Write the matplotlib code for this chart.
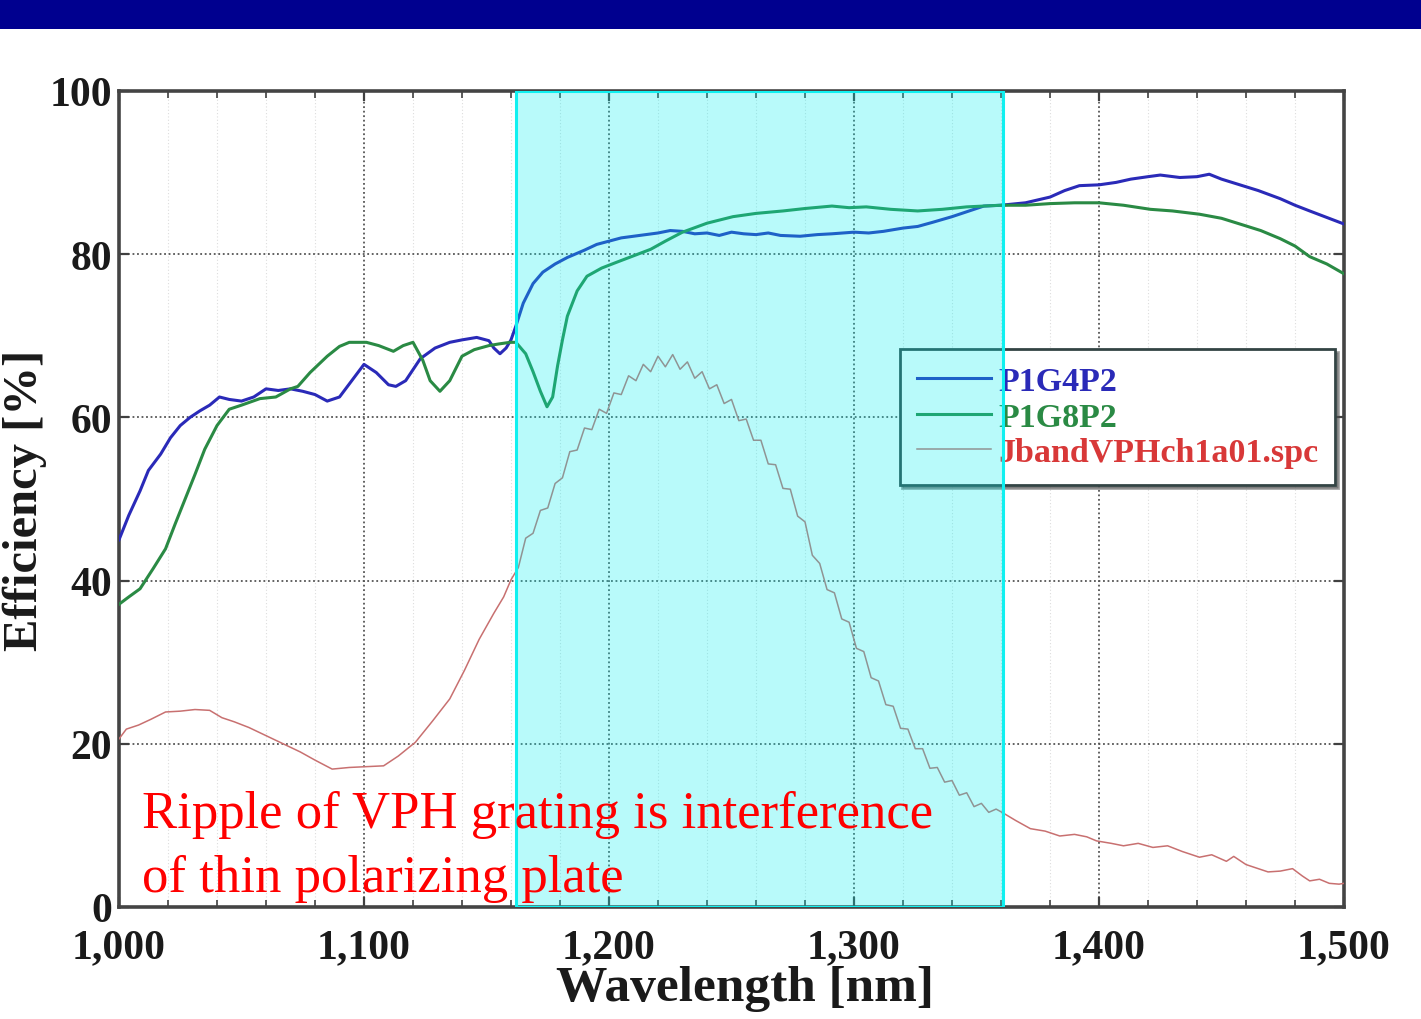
import matplotlib
matplotlib.use("Agg")
import matplotlib.pyplot as plt
from matplotlib.patches import Rectangle
from matplotlib.ticker import MultipleLocator, FuncFormatter

# ---------------- data ----------------
blue_x = [1000, 1004, 1008.6, 1012, 1017, 1021, 1025, 1029, 1033, 1037, 1041, 1045, 1050, 1055,
          1060, 1065, 1070, 1075, 1080, 1085, 1090, 1095, 1100, 1105, 1110, 1113, 1117, 1123,
          1129, 1135, 1140, 1146, 1151, 1153, 1155.5, 1158, 1160, 1162, 1165, 1169, 1173, 1178,
          1183, 1190, 1195, 1200, 1205, 1210, 1215, 1220, 1225, 1230, 1235, 1240, 1245, 1250,
          1255, 1260, 1265, 1270, 1278, 1285, 1291, 1300, 1306, 1312, 1320, 1326, 1332, 1340,
          1346, 1353, 1360, 1370, 1380, 1386, 1392, 1400, 1407, 1413, 1420, 1425, 1433, 1440,
          1445, 1450, 1457.5, 1465, 1474, 1480, 1486, 1493, 1500]
blue_y = [45.0, 48.0, 51.0, 53.5, 55.5, 57.5, 59.0, 60.0, 60.8, 61.5, 62.5, 62.2, 62.0, 62.5,
          63.5, 63.3, 63.5, 63.2, 62.8, 62.0, 62.5, 64.5, 66.5, 65.5, 64.0, 63.8, 64.5, 67.2,
          68.5, 69.2, 69.5, 69.8, 69.4, 68.5, 67.8, 68.5, 69.5, 71.2, 74.0, 76.4, 77.8, 78.8,
          79.6, 80.5, 81.2, 81.6, 82.0, 82.2, 82.4, 82.6, 82.9, 82.8, 82.5, 82.6, 82.3, 82.7,
          82.5, 82.4, 82.6, 82.3, 82.2, 82.4, 82.5, 82.7, 82.6, 82.8, 83.2, 83.4, 83.9, 84.6,
          85.2, 85.9, 86.0, 86.3, 87.0, 87.8, 88.4, 88.5, 88.8, 89.2, 89.5, 89.7, 89.4, 89.5,
          89.8, 89.2, 88.5, 87.8, 86.8, 86.0, 85.3, 84.5, 83.7]

green_x = [1000, 1004, 1008.6, 1014, 1019, 1023, 1027, 1031, 1035, 1040, 1045, 1050, 1057.5,
           1064, 1070, 1073, 1078, 1085, 1090, 1094, 1101, 1106, 1112, 1116, 1120, 1124, 1127,
           1131, 1135, 1140, 1145, 1151, 1155, 1159.6, 1162, 1166, 1169, 1172, 1174.7, 1177,
           1179, 1181, 1183, 1187, 1191, 1197, 1203, 1210, 1217, 1223, 1230, 1240, 1250.6, 1260,
           1271, 1280, 1291, 1298, 1305, 1315, 1326, 1336, 1346, 1360, 1370, 1380, 1390, 1400,
           1410, 1421, 1430, 1441, 1450, 1457.5, 1466, 1474, 1480, 1486, 1493, 1500]
green_y = [37.1, 38.0, 39.0, 41.5, 43.9, 47.0, 50.0, 53.0, 56.1, 59.0, 61.0, 61.5, 62.3,
           62.5, 63.5, 63.8, 65.5, 67.5, 68.7, 69.2, 69.2, 68.8, 68.1, 68.8, 69.2, 67.0, 64.5,
           63.2, 64.5, 67.5, 68.3, 68.8, 69.0, 69.2, 69.2, 67.8, 65.6, 63.2, 61.3, 62.5,
           66.3, 69.5, 72.4, 75.5, 77.3, 78.3, 79.0, 79.8, 80.6, 81.6, 82.7, 83.8, 84.6, 85.0,
           85.3, 85.6, 85.9, 85.7, 85.8, 85.5, 85.3, 85.5, 85.8, 86.0, 86.0, 86.2, 86.3, 86.3,
           86.0, 85.5, 85.3, 84.9, 84.4, 83.7, 82.9, 81.9, 81.0, 79.7, 78.8, 77.6]

pink_x = [1000, 1003, 1008, 1013, 1019, 1025, 1031, 1037, 1042, 1047, 1053, 1060, 1067, 1074,
          1080, 1087, 1094, 1101, 1108, 1114, 1121, 1128, 1135, 1141, 1147, 1153, 1157,
          1160, 1163, 1166, 1169, 1172, 1175, 1178, 1181, 1184, 1187, 1190, 1193, 1196, 1199,
          1202, 1205, 1208, 1211, 1214, 1217, 1220, 1223, 1226, 1229, 1232, 1235, 1238, 1241,
          1244, 1247, 1250, 1253, 1256, 1259, 1262, 1265, 1268, 1271, 1274, 1277, 1280, 1283,
          1286, 1289, 1292, 1295, 1298, 1301, 1304, 1307, 1310, 1313, 1316, 1319, 1322, 1325,
          1328, 1331, 1334, 1337, 1340, 1343, 1346, 1349, 1352, 1355, 1358, 1361,
          1366, 1372, 1378, 1384, 1390, 1395, 1399, 1405, 1410, 1416, 1422, 1428, 1434, 1441,
          1446, 1452, 1455, 1460, 1464, 1469, 1474, 1479, 1483, 1486, 1490, 1494, 1498, 1500]
pink_y = [20.6, 21.8, 22.3, 23.0, 23.9, 24.0, 24.2, 24.1, 23.2, 22.7, 22.0, 21.0, 20.0, 19.0,
          18.0, 16.9, 17.1, 17.2, 17.3, 18.5, 20.2, 22.8, 25.5, 29.0, 32.8, 36.0, 38.0,
          40.1, 41.6, 45.2, 45.8, 48.6, 48.9, 51.9, 52.6, 55.8, 56.0, 58.7, 58.5, 61.0, 60.5,
          63.0, 62.8, 65.1, 64.5, 66.5, 65.6, 67.5, 66.2, 67.7, 65.9, 66.8, 64.8, 65.6, 63.5,
          64.0, 61.7, 62.2, 59.6, 59.8, 57.2, 57.2, 54.3, 54.2, 51.3, 51.2, 47.9, 47.2, 43.1,
          42.1, 38.9, 38.5, 35.3, 34.9, 31.7, 31.3, 28.1, 27.7, 24.8, 24.6, 21.9, 21.8, 19.4,
          19.4, 17.0, 17.1, 15.3, 15.5, 13.7, 14.0, 12.3, 12.7, 11.6, 12.0, 11.5,
          10.6, 9.6, 9.3, 8.7, 8.9, 8.6, 8.1, 7.8, 7.5, 7.8, 7.3, 7.5, 6.8, 6.1,
          6.4, 5.6, 6.2, 5.2, 4.8, 4.3, 4.4, 4.7, 3.8, 3.2, 3.4, 2.9, 2.8, 2.9]

series_labels = ["P1G4P2", "P1G8P2", "JbandVPHch1a01.spc"]
highlight_range = (1162, 1361)
note_lines = ["Ripple of VPH grating is interference", "of thin polarizing plate"]

# ---------------- figure ----------------
W, H = 1421, 1020
fig = plt.figure(figsize=(W / 100, H / 100), dpi=100)
fig.patch.set_facecolor("white")

# navy header bar
fig.patches.append(Rectangle((0, 1 - 30 / H), 1, 30 / H, transform=fig.transFigure,
                             facecolor="#00008f", edgecolor="none", zorder=0))

ax = fig.add_axes([119 / W, 1 - 908 / H, (1344 - 119) / W, (908 - 92) / H])

serif = ["Liberation Serif", "DejaVu Serif"]

ax.plot(blue_x, blue_y, color="#2a2ab8", lw=2.2, label=series_labels[0], zorder=3)
ax.plot(green_x, green_y, color="#2a8a44", lw=2.2, label=series_labels[1], zorder=3)
ax.plot(pink_x, pink_y, color="#c87070", lw=1.1, label=series_labels[2], zorder=3)

ax.set_xlim(1000, 1500)
ax.set_ylim(0, 100)
ax.xaxis.set_major_locator(MultipleLocator(100))
ax.xaxis.set_minor_locator(MultipleLocator(20))
ax.yaxis.set_major_locator(MultipleLocator(20))
ax.xaxis.set_major_formatter(FuncFormatter(lambda v, p: f"{int(v):,}"))

ax.grid(True, which="major", color="#555555", lw=1.3, linestyle=(0, (1, 1.5)), zorder=1)
ax.grid(True, which="minor", axis="x", color="#dddddd", lw=0.8, linestyle=(0, (1, 2)), zorder=1)

ax.tick_params(which="both", direction="in", top=True, right=True, color="#404040")
ax.tick_params(which="major", length=7, width=1.6)
ax.tick_params(which="minor", length=5, width=1.2)
ax.tick_params(axis="x", pad=15)
ax.tick_params(axis="y", pad=5)
for lab in ax.get_xticklabels() + ax.get_yticklabels():
    lab.set_fontfamily(serif)
    lab.set_fontweight("bold")
    lab.set_fontsize(30)
    lab.set_color("#1a1a1a")

for sp in ax.spines.values():
    sp.set_color("#444444")
    sp.set_linewidth(2.6)

ax.set_xlabel("Wavelength [nm]", fontfamily=serif, fontweight="bold", fontsize=37,
              color="#1a1a1a")
ax.xaxis.set_label_coords((745 - 119) / 1225, (908 - 966) / 816)
ax.set_ylabel("Efficiency [%]", fontfamily=serif, fontweight="bold", fontsize=35,
              color="#1a1a1a")
ax.yaxis.set_label_coords((47 - 119) / 1225, 0.5)

leg = ax.legend(loc="upper right", bbox_to_anchor=(0.993, 0.684), frameon=True,
                fancybox=False, shadow=True, prop={"family": serif, "weight": "bold", "size": 24.5},
                handlelength=2.2, handletextpad=0.2, labelspacing=0.14, borderpad=0.5,
                borderaxespad=0.0)
leg.get_frame().set_edgecolor("#334444")
leg.get_frame().set_linewidth(2.0)
leg.set_zorder(5)
for txt, c in zip(leg.get_texts(), ["#2a2ab8", "#2a8a44", "#d83838"]):
    txt.set_color(c)

# highlight band
ax.axvspan(highlight_range[0], highlight_range[1], facecolor="#00f0f0", alpha=0.28,
           edgecolor="none", zorder=6)
ax.axvspan(highlight_range[0], highlight_range[1], facecolor="none", edgecolor="#10f0f0",
           lw=2.2, zorder=7)

# annotation
fig.text(142 / W, 1 - 828 / H, note_lines[0], color="red", fontfamily=serif, fontsize=38,
         va="baseline", ha="left", zorder=10)
fig.text(142 / W, 1 - 892 / H, note_lines[1], color="red", fontfamily=serif, fontsize=38,
         va="baseline", ha="left", zorder=10)

fig.savefig("out.png", dpi=100)
